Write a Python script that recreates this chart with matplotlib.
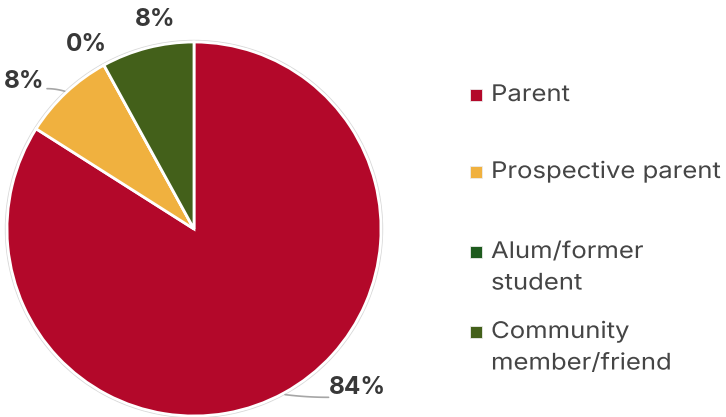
import numpy as np
import matplotlib
matplotlib.use("Agg")
import matplotlib.pyplot as plt
from matplotlib.patches import Rectangle, Circle
from matplotlib.patheffects import AbstractPathEffect
from matplotlib.transforms import Affine2D

categories = ["Parent", "Prospective parent", "Alum/former\nstudent", "Community\nmember/friend"]
shares = [84, 8, 0, 8]
colors = ["#B3082A", "#F0B13F", "#1E5B1E", "#43601A"]

plt.rcParams["font.family"] = ["Inter", "DejaVu Sans"]


class HStretch(AbstractPathEffect):
    """Widen glyphs horizontally from the start of each text line."""

    def __init__(self, sx):
        super().__init__()
        self.sx = sx

    def draw_path(self, renderer, gc, tpath, affine, rgbFace=None):
        renderer.draw_path(gc, tpath, Affine2D().scale(self.sx, 1) + affine, rgbFace)


W, H = 726, 417
fig = plt.figure(figsize=(W / 100, H / 100), dpi=100)
ax = fig.add_axes([0, 0, 1, 1])

cx, cy, r = 194, 188, 187
wedges, _ = ax.pie(shares, colors=colors, startangle=90, counterclock=False,
                   center=(cx, cy), radius=r,
                   wedgeprops=dict(edgecolor="white", linewidth=2))
ax.add_patch(Circle((cx, cy), r + 1.5, fill=False, edgecolor="#d9d9d9", linewidth=1, zorder=0))
ax.set_xlim(0, W)
ax.set_ylim(0, H)
ax.set_aspect("equal")
ax.axis("off")

# label placement: (angle offset deg, radius factor, leader end offset from label or None)
label_style = [(17.5, 1.21, (-29, -10)), (5.5, 1.21, (23, -7)), (1.2, 1.15, None), (-4, 1.15, None)]
for w, val, (dang, rf, lead) in zip(wedges, shares, label_style):
    mid = np.deg2rad((w.theta1 + w.theta2) / 2)
    ang = mid + np.deg2rad(dang)
    tx, ty = cx + rf * r * np.cos(ang), cy + rf * r * np.sin(ang) - 2
    ax.text(tx, ty, f"{val}%", ha="center", va="center", fontsize=17.5,
            fontweight="bold", color="#383838")
    if lead is not None:
        ex, ey = cx + (r + 2) * np.cos(mid), cy + (r + 2) * np.sin(mid)
        lx, ly = tx + lead[0], ty + lead[1]
        t = np.linspace(0, 1, 20)
        # gentle curve: bend toward the label's horizontal level
        px = ex + (lx - ex) * t
        py = ey + (ly - ey) * (1 - (1 - t) ** 2)
        ax.plot(px, py, color="#a6a6a6", lw=1.2, solid_capstyle="round")

# legend (first-line baselines, measured from the top edge)
legend_baselines = [101, 178, 258, 338]
line_step = 31.5
stretch = HStretch(1.12)
for name, col, base in zip(categories, colors, legend_baselines):
    y = H - base
    ax.add_patch(Rectangle((470, y + 0.5), 11.5, 11.5, facecolor=col,
                           edgecolor="#ececec", lw=0.6))
    for k, line in enumerate(name.split("\n")):
        ax.text(491, y - k * line_step, line, ha="left", va="baseline",
                fontsize=16.5, color="#454545", path_effects=[stretch])

fig.savefig("out.png", dpi=100)
